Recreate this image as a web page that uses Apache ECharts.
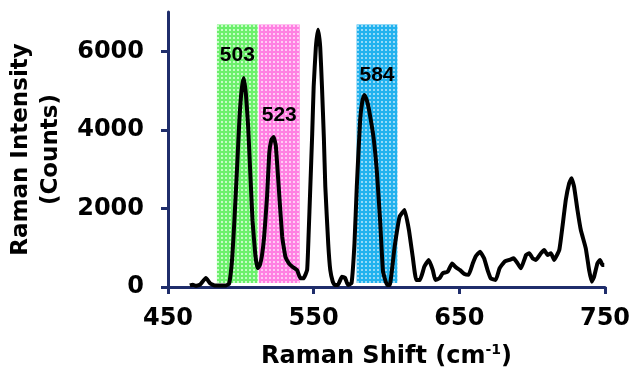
<!DOCTYPE html>
<html>
<head>
<meta charset="utf-8">
<script src="https://cdn.jsdelivr.net/npm/echarts@6/dist/echarts.min.js"></script>
<style>
html,body{margin:0;padding:0;background:#fff;}
#c{width:635px;height:375px;}
</style>
</head>
<body>
<div id="c"></div>
<script>
// ---- data ----
var ramanShift = [465,467,469,472,476,479,482,486,490,492,494,495.6,497.5,499,500.5,502,503.5,505,506.5,508,510,511.5,513,514.5,516,518,519.5,521,522.5,524,526,528.4,530.6,533,535.2,538.6,540.9,543,545.5,546.5,547.7,549,550,551.5,553,554.5,555.7,557,558,560,561.4,563,564.4,566.6,569.4,571.6,573.5,576,578,579.6,581.9,583.5,584.8,586.5,588,591,593.3,595.6,597.6,600.4,602.2,605.6,609,612.4,615.4,618,620.4,623,626,629,631.8,633.5,636.3,638.6,642,645,647.7,650.5,653.5,656.4,659.2,661.4,664.2,667,669.4,671.6,675,677.6,681,684.4,687.3,690,692.3,695.8,698,700.3,702.6,706,708.3,710.6,712.9,715.1,718.6,720.8,723.1,725.4,727,728.8,731.1,733.4,736.8,739.1,740.9,742.5,744.8,746.6,748.2,749.5];
var intensity = [40,60,30,60,230,90,40,40,40,90,700,1700,3100,4250,5000,5320,4900,4100,2900,1700,800,475,550,800,1280,2300,3400,3750,3820,3600,2550,1280,770,600,520,430,220,220,430,1300,2550,3900,5100,6100,6550,6100,5100,3800,2550,1100,430,150,50,50,260,230,50,100,1100,2550,4250,4750,4890,4750,4510,3830,2980,1700,400,50,50,1030,1790,1960,1450,770,180,180,520,690,430,180,220,350,390,600,500,430,330,310,600,790,900,730,430,220,180,475,645,690,730,600,475,815,860,730,690,860,940,815,860,690,940,1540,2220,2640,2770,2550,1960,1450,985,430,135,260,600,690,560,560];
var bandLabels = ['503','523','584'];
var bandStart = [483.6, 512.3, 579.5];
var bandEnd = [511.6, 540.4, 607.5];
var bandBottom = 100;
var bandTop = 6680;
var bandLabelOffset = [20, 80, 40];
var xTicks = [450, 550, 650, 750];
var yTicks = [0, 2000, 4000, 6000];

function pattern(base, dot){
  var c = document.createElement('canvas');
  c.width = 4; c.height = 4;
  var g = c.getContext('2d');
  g.fillStyle = base; g.fillRect(0,0,4,4);
  g.fillStyle = dot; g.fillRect(1,1,2,2);
  return {image: c, repeat: 'repeat'};
}
var bandFills = [
  pattern('#6CF06C', '#C6FCC6'),
  pattern('#FF80E2', '#FFCCF4'),
  pattern('#22B2EE', '#96DAF8')
];

var lineData = ramanShift.map(function(x,i){return [x, intensity[i]];});
var areas = bandLabels.map(function(lab,i){
  return [{
    name: lab,
    xAxis: bandStart[i], yAxis: bandTop,
    itemStyle: {color: bandFills[i]},
    label: {show: true, position: 'insideTop', offset:[0, bandLabelOffset[i]-5], formatter: lab,
      color:'#000', fontFamily:'Liberation Sans', fontWeight:'bold', fontSize:21}
  },{
    xAxis: bandEnd[i], yAxis: bandBottom
  }];
});

function plain(v){ return String(v); }

var navy = '#1F2D6B';
var chart = echarts.init(document.getElementById('c'), null, {renderer:'canvas'});
chart.setOption({
  animation: false,
  backgroundColor: '#ffffff',
  grid: {left: 168, right: 30, top: 12, bottom: 88, containLabel: false, outerBoundsMode: 'none'},
  xAxis: {
    type: 'value', min: 450, max: 750, interval: 100,
    name: '{t|Raman Shift (cm}{s|-1}{t|)}',
    nameLocation: 'middle', nameGap: 56,
    nameTextStyle: {
      rich: {
        t: {fontFamily:'DejaVu Sans', fontWeight:'bold', fontSize:24, color:'#000', lineHeight: 28},
        s: {fontFamily:'DejaVu Sans', fontWeight:'bold', fontSize:14, color:'#000', verticalAlign:'top', lineHeight: 28, padding:[0,0,10,0]}
      }
    },
    axisLine: {show: true, onZero: false, lineStyle: {color: navy, width: 3}},
    axisTick: {show: true, inside: false, length: 7, lineStyle: {color: navy, width: 3}, customValues: xTicks},
    axisLabel: {customValues: xTicks, formatter: plain, margin: 20, color:'#000', fontFamily:'DejaVu Sans', fontWeight:'bold', fontSize:24},
    splitLine: {show: false}
  },
  yAxis: {
    type: 'value', min: 0, max: 7000,
    name: 'Raman Intensity\n(Counts)',
    nameLocation: 'middle', nameGap: 97, nameRotate: 90,
    nameTextStyle: {fontFamily:'DejaVu Sans', fontWeight:'bold', fontSize:23, color:'#000', lineHeight: 30},
    axisLine: {show: true, lineStyle: {color: navy, width: 3}},
    axisTick: {show: true, inside: false, length: 7, lineStyle: {color: navy, width: 3}, customValues: yTicks},
    axisLabel: {customValues: yTicks, formatter: plain, margin: 24, color:'#000', fontFamily:'DejaVu Sans', fontWeight:'bold', fontSize:24},
    splitLine: {show: false}
  },
  series: [{
    type: 'line',
    data: lineData,
    showSymbol: false,
    smooth: 0.12,
    lineStyle: {color: '#000', width: 4},
    z: 3,
    markArea: {silent: true, z: 1, data: areas}
  }]
});
</script>
</body>
</html>
